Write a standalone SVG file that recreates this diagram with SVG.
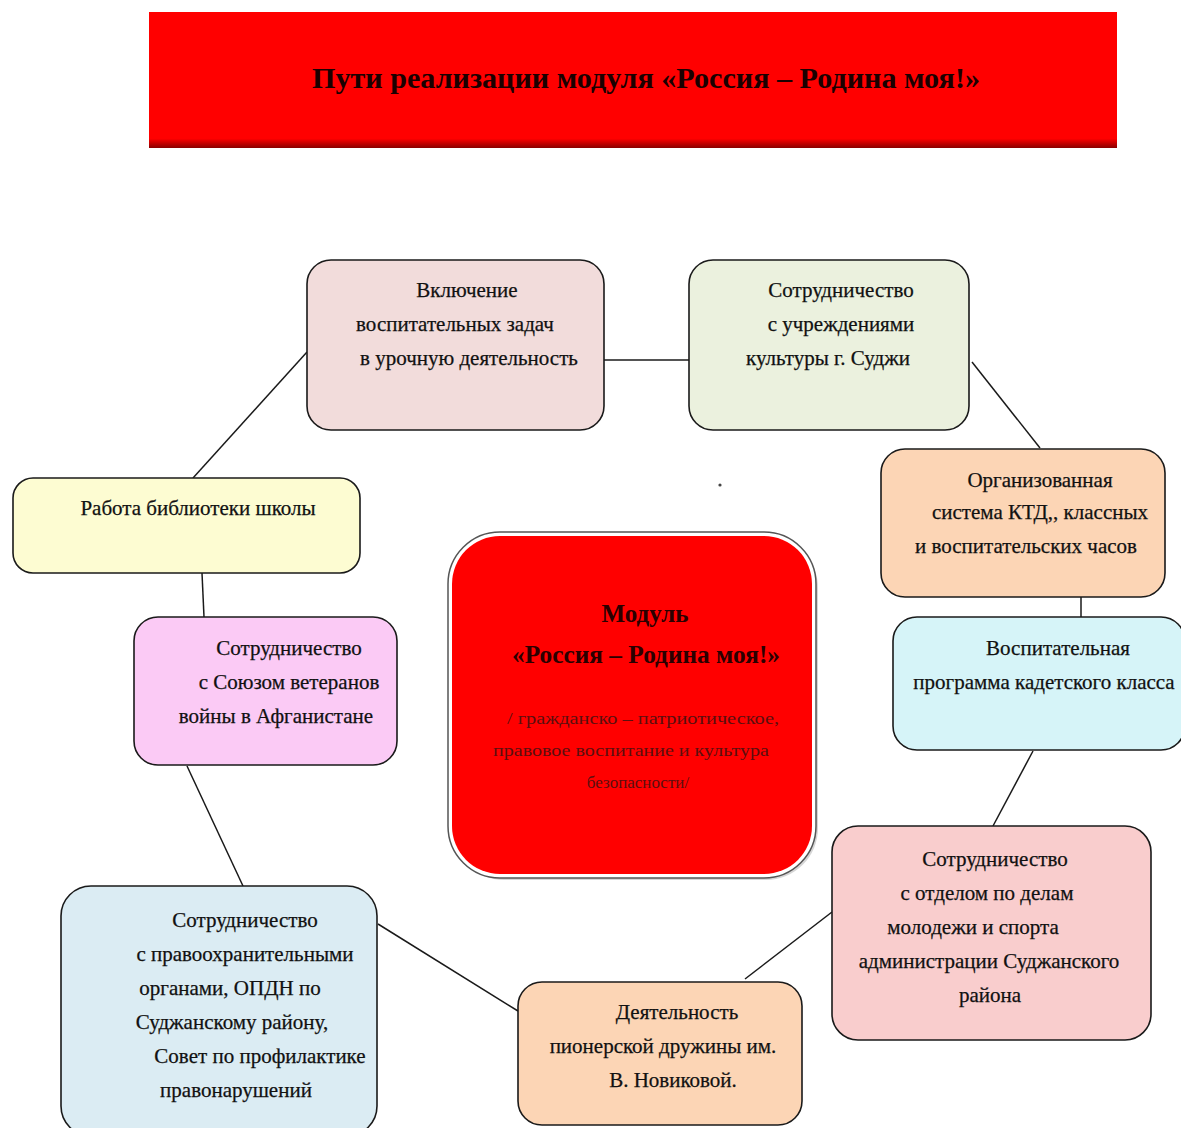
<svg xmlns="http://www.w3.org/2000/svg" width="1181" height="1128" viewBox="0 0 1181 1128">
<defs>
<style>
.node{stroke:#1a1a1a;stroke-width:1.6}
.t{font-family:"Liberation Serif","Times New Roman",serif;font-size:21px;fill:#111;stroke:#111;stroke-width:0.25;text-anchor:middle}
.conn line{stroke:#1a1a1a;stroke-width:1.5}
.sub{font-family:"Liberation Serif","Times New Roman",serif;font-size:17px;fill:#5a0f0f;text-anchor:middle}
</style>
<linearGradient id="titleShade" x1="0" y1="0" x2="0" y2="1">
<stop offset="0" stop-color="#ff0000"/>
<stop offset="0.93" stop-color="#ff0000"/>
<stop offset="1" stop-color="#8a0000"/>
</linearGradient>
</defs>
<rect width="1181" height="1128" fill="#ffffff"/>

<g id="title">
<rect x="149" y="12" width="968" height="136" fill="url(#titleShade)"/>
<text x="646" y="88" font-family="Liberation Serif,'Times New Roman',serif" font-size="30" font-weight="bold" fill="#1a0000" text-anchor="middle" textLength="668" lengthAdjust="spacingAndGlyphs">Пути реализации модуля «Россия – Родина моя!»</text>
</g>

<g class="conn" id="connectors">
<line x1="604" y1="360" x2="689" y2="360"/>
<line x1="972" y1="362" x2="1040" y2="448"/>
<line x1="1081" y1="597" x2="1081" y2="617"/>
<line x1="1033" y1="751" x2="993" y2="826"/>
<line x1="832" y1="912" x2="745" y2="979"/>
<line x1="378" y1="924" x2="518" y2="1011"/>
<line x1="243" y1="886" x2="187" y2="766"/>
<line x1="202" y1="573" x2="204" y2="617"/>
<line x1="193" y1="478" x2="307" y2="352"/>
</g>

<g id="node-center">
<rect x="452" y="536" width="366" height="344" rx="52" fill="#bbbbbb" opacity="0.6"/>
<rect x="448" y="532" width="368" height="346" rx="52" fill="#ffffff" stroke="#555" stroke-width="1.5"/>
<rect x="452" y="536" width="360" height="338" rx="48" fill="#ff0000"/>
<text x="645" y="622" font-family="Liberation Serif,'Times New Roman',serif" font-size="25" font-weight="bold" fill="#2a0000" text-anchor="middle">Модуль</text>
<text x="646" y="663" font-family="Liberation Serif,'Times New Roman',serif" font-size="25" font-weight="bold" fill="#2a0000" text-anchor="middle" textLength="268" lengthAdjust="spacingAndGlyphs">«Россия – Родина моя!»</text>
<text class="sub" x="643" y="724" textLength="272" lengthAdjust="spacingAndGlyphs">/ гражданско – патриотическое,</text>
<text class="sub" x="631" y="756" textLength="276" lengthAdjust="spacingAndGlyphs">правовое воспитание и культура</text>
<text class="sub" x="638" y="788">безопасности/</text>
</g>

<g id="node-lessons">
<rect class="node" x="307" y="260" width="297" height="170" rx="24" fill="#f2dcdb"/>
<text class="t" x="467" y="297">Включение</text>
<text class="t" x="455" y="331">воспитательных  задач</text>
<text class="t" x="469" y="365">в урочную деятельность</text>
</g>

<g id="node-culture">
<rect class="node" x="689" y="260" width="280" height="170" rx="24" fill="#ebf1de"/>
<text class="t" x="841" y="297">Сотрудничество</text>
<text class="t" x="841" y="331">с учреждениями</text>
<text class="t" x="828" y="365">культуры г. Суджи</text>
</g>

<g id="node-ktd">
<rect class="node" x="881" y="449" width="284" height="148" rx="24" fill="#fcd5b5"/>
<text class="t" x="1040" y="487">Организованная</text>
<text class="t" x="1040" y="519">система КТД,, классных</text>
<text class="t" x="1026" y="553">и воспитательских  часов</text>
</g>

<g id="node-cadet">
<rect class="node" x="893" y="617" width="292" height="133" rx="24" fill="#d6f4f8"/>
<text class="t" x="1058" y="655">Воспитательная</text>
<text class="t" x="1044" y="689">программа кадетского класса</text>
</g>

<g id="node-youth">
<rect class="node" x="832" y="826" width="319" height="214" rx="26" fill="#f9cdcd"/>
<text class="t" x="995" y="866">Сотрудничество</text>
<text class="t" x="987" y="900">с отделом по делам</text>
<text class="t" x="973" y="934">молодежи и спорта</text>
<text class="t" x="989" y="968">администрации  Суджанского</text>
<text class="t" x="990" y="1002">района</text>
</g>

<g id="node-pioneer">
<rect class="node" x="518" y="982" width="284" height="143" rx="24" fill="#fcd5b5"/>
<text class="t" x="677" y="1019">Деятельность</text>
<text class="t" x="663" y="1053">пионерской дружины им.</text>
<text class="t" x="673" y="1087">В. Новиковой.</text>
</g>

<g id="node-police">
<rect class="node" x="61" y="886" width="316" height="250" rx="30" fill="#dbecf3"/>
<text class="t" x="245" y="927">Сотрудничество</text>
<text class="t" x="245" y="961">с правоохранительными</text>
<text class="t" x="230" y="995">органами, ОПДН по</text>
<text class="t" x="232" y="1029">Суджанскому району,</text>
<text class="t" x="260" y="1063">Совет по профилактике</text>
<text class="t" x="236" y="1097">правонарушений</text>
</g>

<g id="node-veterans">
<rect class="node" x="134" y="617" width="263" height="148" rx="24" fill="#fbcaf5"/>
<text class="t" x="289" y="655">Сотрудничество</text>
<text class="t" x="289" y="689">с Союзом ветеранов</text>
<text class="t" x="276" y="723">войны в Афганистане</text>
</g>

<g id="node-library">
<rect class="node" x="13" y="478" width="347" height="95" rx="20" fill="#fdfcd2"/>
<text class="t" x="198" y="515">Работа библиотеки школы</text>
</g>

<circle cx="720" cy="485" r="1.6" fill="#444"/>
</svg>
